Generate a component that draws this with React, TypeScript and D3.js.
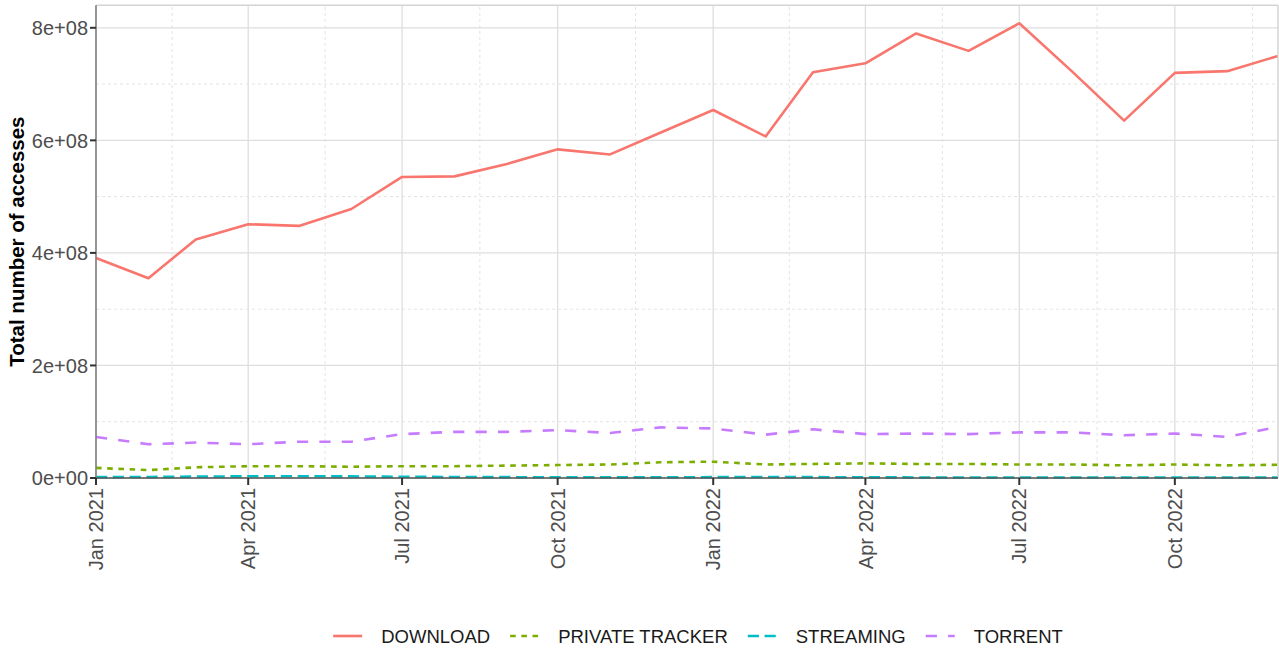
import React, { useEffect, useRef } from 'react';
import * as d3 from 'd3';

// monthly totals, Jan 2021 - Dec 2022
const months = [
  '2021-01', '2021-02', '2021-03', '2021-04', '2021-05', '2021-06',
  '2021-07', '2021-08', '2021-09', '2021-10', '2021-11', '2021-12',
  '2022-01', '2022-02', '2022-03', '2022-04', '2022-05', '2022-06',
  '2022-07', '2022-08', '2022-09', '2022-10', '2022-11', '2022-12'
];

const download = [
  391e6, 355e6, 424e6, 451e6, 448e6, 478e6, 535e6, 536e6, 558e6, 584e6, 575e6, 614e6,
  654e6, 607e6, 721e6, 737e6, 790e6, 759e6, 808e6, 723e6, 635e6, 720e6, 723e6, 750e6
];
const privateTracker = [
  18e6, 14e6, 19e6, 21e6, 21e6, 20e6, 21e6, 21e6, 22e6, 23e6, 24e6, 28e6,
  29e6, 24e6, 25e6, 26e6, 25e6, 25e6, 24e6, 24e6, 22.5e6, 24e6, 22.5e6, 23.5e6
];
const streaming = [
  1.5e6, 1.8e6, 2.5e6, 3.0e6, 3.2e6, 2.8e6, 2.2e6, 1.8e6, 1.5e6, 1.3e6, 1.2e6, 1.2e6,
  1.5e6, 1.8e6, 1.5e6, 1.2e6, 1.0e6, 1.0e6, 1.0e6, 0.9e6, 0.9e6, 0.9e6, 0.9e6, 0.9e6
];
const torrent = [
  73e6, 60e6, 63e6, 60e6, 64.5e6, 64.5e6, 78e6, 82e6, 82e6, 85e6, 80e6, 90e6,
  88e6, 77e6, 86.5e6, 78e6, 79e6, 78e6, 81e6, 81e6, 76e6, 79e6, 73e6, 91e6
];

const seriesNames = ['DOWNLOAD', 'PRIVATE TRACKER', 'STREAMING', 'TORRENT'];
const seriesColors = ['#F8766D', '#7CAE00', '#00BFC4', '#C77CFF'];
const yTicks = [0, 2e8, 4e8, 6e8, 8e8];
const yMinorTicks = [1e8, 3e8, 5e8, 7e8];
const yMax = 8.4e8;

const FONT = '"Liberation Sans", Arial, Helvetica, sans-serif';
const LW = 2.6;
// R linetypes "solid", "22", "42", "44" in units of line width
const dashes = ['none', '5.6,5.6', '11.2,5.6', '11.2,11.2'];

// R style scientific: 8e+08
function sci(v: number) {
  if (v === 0) return '0e+00';
  const e = Math.floor(Math.log10(Math.abs(v)));
  const m = Math.round(v / Math.pow(10, e));
  const s = e < 0 ? '-' : '+';
  return m + 'e' + s + String(Math.abs(e)).padStart(2, '0');
}

export default function App() {
  const ref = useRef<SVGSVGElement>(null);

  useEffect(() => {
    const svg = d3.select(ref.current);
    svg.selectAll('*').remove();

    const width = 1279;
    const margin = { top: 5.3, right: 1, bottom: 172, left: 96 };
    const height = 650;
    const x0 = margin.left, x1 = width - margin.right;
    const y0 = height - margin.bottom, y1 = margin.top;

    const parse = d3.timeParse('%Y-%m');
    const dates = months.map(m => parse(m) as Date);
    const values = [download, privateTracker, streaming, torrent];

    const x = d3.scaleTime().domain([dates[0], dates[dates.length - 1]]).range([x0, x1]);
    const y = d3.scaleLinear().domain([0, yMax]).range([y0, y1]);

    const xTicks = d3.timeMonth.every(3)!.range(dates[0], dates[dates.length - 1]);
    // minor breaks midway between majors
    const xMinor: Date[] = [];
    const allMajor = xTicks.concat([d3.timeMonth.offset(xTicks[xTicks.length - 1], 3)]);
    for (let i = 0; i < allMajor.length - 1; i++) {
      const mid = new Date((allMajor[i].getTime() + allMajor[i + 1].getTime()) / 2);
      if (mid <= dates[dates.length - 1]) xMinor.push(mid);
    }

    svg.append('rect').attr('width', width).attr('height', height).attr('fill', '#fff');

    const grid = svg.append('g');
    // minor grid
    grid.selectAll('.ymin').data(yMinorTicks).enter().append('line')
      .attr('x1', x0).attr('x2', x1)
      .attr('y1', d => y(d)).attr('y2', d => y(d))
      .attr('stroke', '#e3e3e3').attr('stroke-width', 1).attr('stroke-dasharray', '3,3');
    grid.selectAll('.xmin').data(xMinor).enter().append('line')
      .attr('x1', d => x(d)).attr('x2', d => x(d))
      .attr('y1', y0).attr('y2', y1)
      .attr('stroke', '#e3e3e3').attr('stroke-width', 1).attr('stroke-dasharray', '3,3');
    // major grid
    grid.selectAll('.ymaj').data(yTicks).enter().append('line')
      .attr('x1', x0).attr('x2', x1)
      .attr('y1', d => y(d)).attr('y2', d => y(d))
      .attr('stroke', '#dedede').attr('stroke-width', 1.3);
    grid.selectAll('.xmaj').data(xTicks).enter().append('line')
      .attr('x1', d => x(d)).attr('x2', d => x(d))
      .attr('y1', y0).attr('y2', y1)
      .attr('stroke', '#dedede').attr('stroke-width', 1.3);

    // lines
    const line = d3.line<number>()
      .x((d, i) => x(dates[i]))
      .y(d => y(d));

    values.forEach((vals, i) => {
      svg.append('path')
        .attr('d', line(vals))
        .attr('fill', 'none')
        .attr('stroke', seriesColors[i])
        .attr('stroke-width', LW)
        .attr('stroke-dasharray', dashes[i])
        .attr('stroke-linejoin', 'round');
    });

    // panel border
    svg.append('line').attr('x1', x0).attr('x2', x1).attr('y1', y1).attr('y2', y1)
      .attr('stroke', '#d4d4d4').attr('stroke-width', 1.5);
    svg.append('line').attr('x1', x1).attr('x2', x1).attr('y1', y1).attr('y2', y0)
      .attr('stroke', '#d4d4d4').attr('stroke-width', 1.5);
    svg.append('line').attr('x1', x0).attr('x2', x0).attr('y1', y1).attr('y2', y0)
      .attr('stroke', '#808080').attr('stroke-width', 1.6);
    svg.append('line').attr('x1', x0).attr('x2', x1).attr('y1', y0).attr('y2', y0)
      .attr('stroke', '#555').attr('stroke-width', 1.6);

    // y axis
    const yAxis = svg.append('g');
    yAxis.selectAll('line').data(yTicks).enter().append('line')
      .attr('x1', x0 - 6).attr('x2', x0)
      .attr('y1', d => y(d)).attr('y2', d => y(d))
      .attr('stroke', '#333').attr('stroke-width', 2);
    yAxis.selectAll('text').data(yTicks).enter().append('text')
      .attr('x', x0 - 8).attr('y', d => y(d))
      .attr('dy', '0.36em')
      .attr('text-anchor', 'end')
      .attr('font-family', FONT).attr('font-size', 20)
      .attr('fill', '#4d4d4d')
      .text(d => sci(d));

    // x axis
    const xAxis = svg.append('g');
    xAxis.selectAll('line').data(xTicks).enter().append('line')
      .attr('x1', d => x(d)).attr('x2', d => x(d))
      .attr('y1', y0).attr('y2', y0 + 7)
      .attr('stroke', '#333').attr('stroke-width', 2);
    const fmt = d3.timeFormat('%b %Y');
    xAxis.selectAll('text').data(xTicks).enter().append('text')
      .attr('transform', d => `translate(${x(d)},${y0 + 10}) rotate(-90)`)
      .attr('dy', '0.36em')
      .attr('text-anchor', 'end')
      .attr('font-family', FONT).attr('font-size', 20)
      .attr('fill', '#4d4d4d')
      .text(d => fmt(d));

    // y title
    svg.append('text')
      .attr('transform', `translate(24,${(y0 + y1) / 2}) rotate(-90)`)
      .attr('text-anchor', 'middle')
      .attr('font-family', FONT).attr('font-size', 20.5).attr('font-weight', 'bold')
      .attr('fill', '#000')
      .text('Total number of accesses');

    // legend
    const lg = svg.append('g');
    const ly = 636;
    const keyW = 29, keyGap = 19, itemGap = 20;
    const items = seriesNames.map((name, i) => {
      const g = lg.append('g');
      g.append('line')
        .attr('x1', 0).attr('x2', keyW).attr('y1', ly).attr('y2', ly)
        .attr('stroke', seriesColors[i]).attr('stroke-width', LW)
        .attr('stroke-dasharray', dashes[i]);
      const t = g.append('text')
        .attr('x', keyW + keyGap).attr('y', ly).attr('dy', '0.36em')
        .attr('font-family', FONT).attr('font-size', 18.5)
        .attr('fill', '#1a1a1a')
        .text(name);
      const w = (t.node() as SVGTextElement).getComputedTextLength();
      return { g, w: keyW + keyGap + w };
    });
    const total = d3.sum(items, d => d.w) + itemGap * (items.length - 1);
    let cx = 698 - total / 2;
    items.forEach(it => {
      it.g.attr('transform', `translate(${cx},0)`);
      cx += it.w + itemGap;
    });
  }, []);

  return (
    <div style={{ position: 'absolute', left: 0, top: 0 }}>
      <svg ref={ref} width={1279} height={650} style={{ display: 'block' }}></svg>
    </div>
  );
}
